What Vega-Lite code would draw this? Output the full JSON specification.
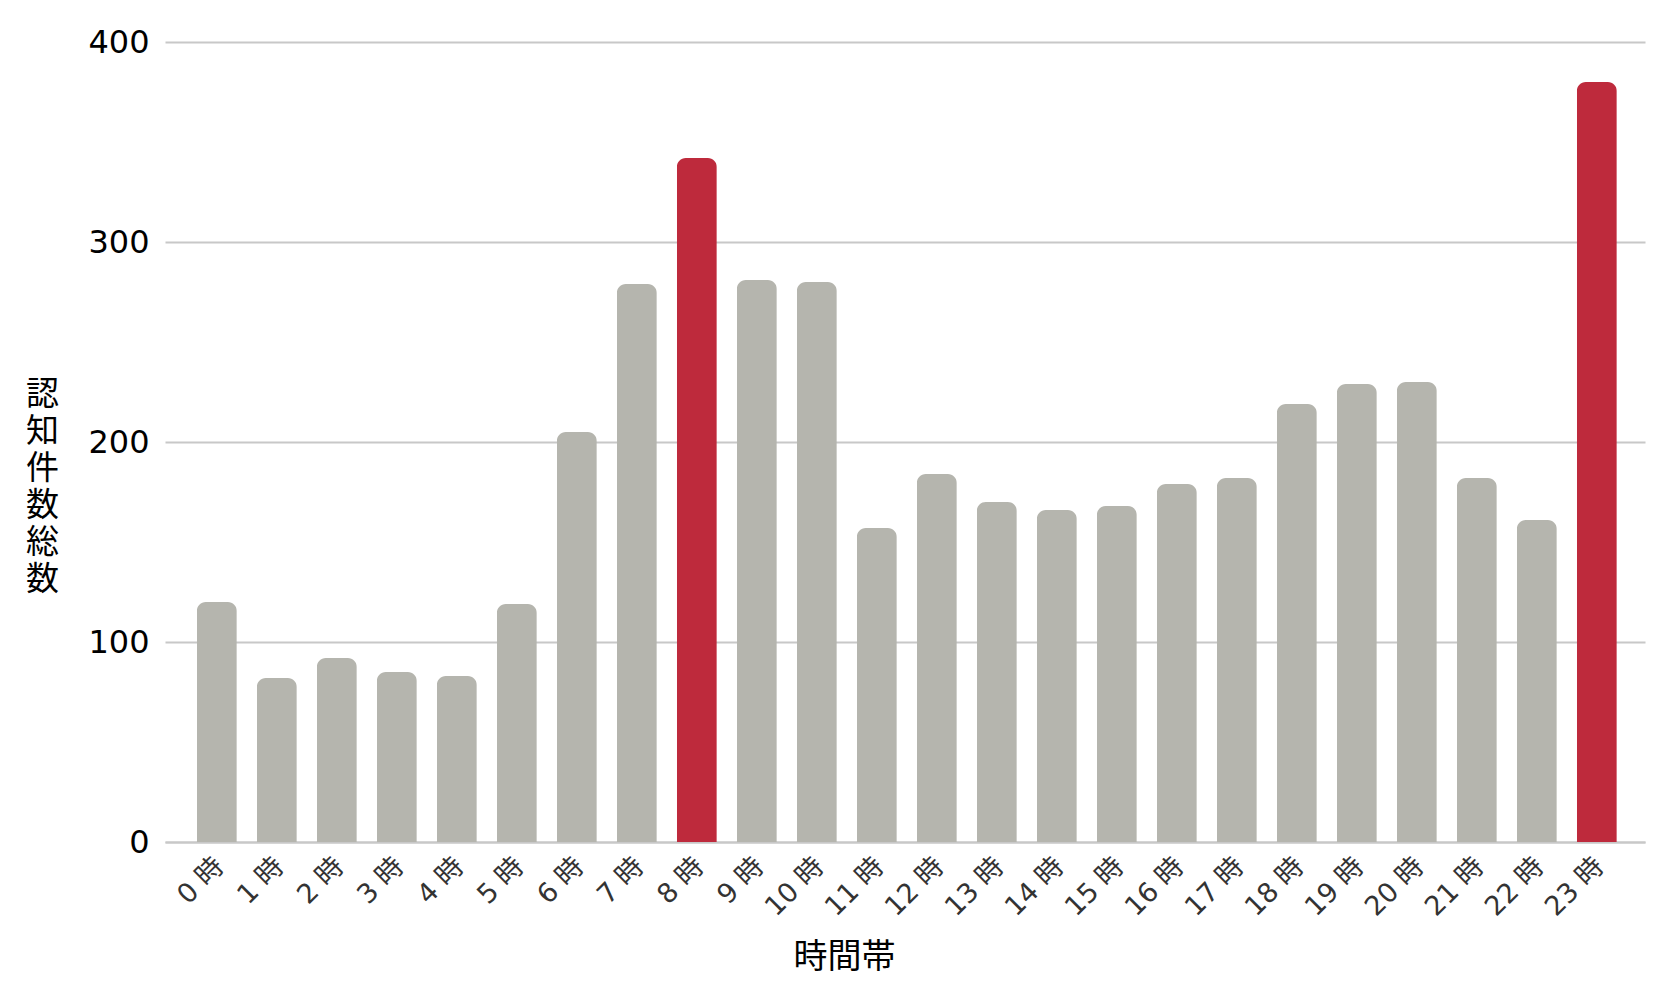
{
  "$schema": "https://vega.github.io/schema/vega-lite/v6.json",
  "autosize": {"type": "none"},
  "padding": {"left": 165, "top": 42, "right": 24, "bottom": 161},
  "width": 1480,
  "height": 800,
  "background": "white",
  "config": {
    "view": {"stroke": null},
    "font": "DejaVu Sans, Noto Sans CJK JP"
  },
  "data": {
    "values": [
      {"hour": "0 時", "count": 120},
      {"hour": "1 時", "count": 82},
      {"hour": "2 時", "count": 92},
      {"hour": "3 時", "count": 85},
      {"hour": "4 時", "count": 83},
      {"hour": "5 時", "count": 119},
      {"hour": "6 時", "count": 205},
      {"hour": "7 時", "count": 279},
      {"hour": "8 時", "count": 342},
      {"hour": "9 時", "count": 281},
      {"hour": "10 時", "count": 280},
      {"hour": "11 時", "count": 157},
      {"hour": "12 時", "count": 184},
      {"hour": "13 時", "count": 170},
      {"hour": "14 時", "count": 166},
      {"hour": "15 時", "count": 168},
      {"hour": "16 時", "count": 179},
      {"hour": "17 時", "count": 182},
      {"hour": "18 時", "count": 219},
      {"hour": "19 時", "count": 229},
      {"hour": "20 時", "count": 230},
      {"hour": "21 時", "count": 182},
      {"hour": "22 時", "count": 161},
      {"hour": "23 時", "count": 380}
    ]
  },
  "mark": {"type": "bar", "cornerRadiusTopLeft": 9, "cornerRadiusTopRight": 9},
  "encoding": {
    "x": {
      "field": "hour",
      "type": "nominal",
      "sort": null,
      "scale": {"paddingInner": 0.3333, "paddingOuter": 0.5, "align": 0.53},
      "axis": {
        "title": "時間帯",
        "titleFont": "Noto Sans CJK JP",
        "titleFontSize": 34,
        "titleFontWeight": "normal",
        "titleColor": "#000000",
        "titleX": 679,
        "titleY": 115,
        "titleAlign": "center",
        "titleBaseline": "middle",
        "labelAngle": -45,
        "labelAlign": "right",
        "labelBaseline": "middle",
        "labelFontSize": 27,
        "labelColor": "#333333",
        "labelPadding": 20,
        "labelOffset": 3,
        "ticks": false,
        "domain": true,
        "domainColor": "#c8c8c8",
        "domainWidth": 2,
        "grid": false
      }
    },
    "y": {
      "field": "count",
      "type": "quantitative",
      "scale": {"domain": [0, 400], "nice": false},
      "axis": {
        "values": [0, 100, 200, 300, 400],
        "title": ["認", "知", "件", "数", "総", "数"],
        "titleFont": "Noto Sans CJK JP",
        "titleFontSize": 33,
        "titleFontWeight": "normal",
        "titleColor": "#000000",
        "titleAngle": 0,
        "titleLineHeight": 37,
        "titleX": -123,
        "titleY": 352,
        "titleAlign": "center",
        "titleBaseline": "middle",
        "labelFontSize": 32,
        "labelColor": "#000000",
        "labelPadding": 16,
        "ticks": false,
        "domain": false,
        "grid": true,
        "gridColor": "#c8c8c8",
        "gridWidth": 2
      }
    },
    "color": {
      "condition": {"test": "datum.hour === '8 時' || datum.hour === '23 時'", "value": "#be2a3c"},
      "value": "#b5b5ae"
    }
  }
}
